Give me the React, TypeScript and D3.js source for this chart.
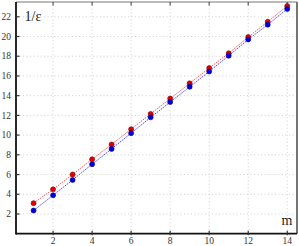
import React, { useEffect } from "react";
import * as d3 from "d3";

const mValues = [1, 2, 3, 4, 5, 6, 7, 8, 9, 10, 11, 12, 13, 14];
const redSeries = [3.1, 4.5, 6.0, 7.55, 9.05, 10.6, 12.15, 13.7, 15.25, 16.8, 18.3, 19.95, 21.5, 23.1];
const blueSeries = [2.35, 3.9, 5.45, 7.05, 8.6, 10.2, 11.8, 13.35, 14.9, 16.45, 18.05, 19.7, 21.2, 22.8];
const xTicks = [2, 4, 6, 8, 10, 12, 14];
const yTicks = [2, 4, 6, 8, 10, 12, 14, 16, 18, 20, 22];

const width = 299;
const height = 246;
const margin = { top: 2, right: 2, bottom: 12.3, left: 16 };
const font = "'Liberation Serif', 'DejaVu Serif', serif";

const App: React.FC = () => {
  useEffect(() => {
    document.body.style.margin = "0";
  }, []);

  const x = d3.scaleLinear().domain([0.1, 14.5]).range([margin.left, width - margin.right]);
  const y = d3.scaleLinear().domain([0, 23.5]).range([height - margin.bottom, margin.top]);

  const line = d3
    .line<number>()
    .x((_, i) => x(mValues[i]))
    .y((d) => y(d));

  const x0 = x.range()[0];
  const x1 = x.range()[1];
  const y0 = y.range()[0];
  const y1 = y.range()[1];

  return (
    <svg width={width} height={height} style={{ display: "block" }} fontFamily={font}>
      <rect width={width} height={height} fill="#fff" />
      {/* grid */}
      {xTicks.map((t) => (
        <line key={"gx" + t} x1={x(t)} x2={x(t)} y1={y0} y2={y1} stroke="#c4c4c4" strokeWidth={0.8} strokeDasharray="1,2.5" />
      ))}
      {yTicks.map((t) => (
        <line key={"gy" + t} x1={x0} x2={x1} y1={y(t)} y2={y(t)} stroke="#c4c4c4" strokeWidth={0.8} strokeDasharray="1,2.5" />
      ))}
      {/* frame */}
      <line x1={x0} x2={x1} y1={y1} y2={y1} stroke="#777" strokeWidth={1.2} />
      <line x1={x1} x2={x1} y1={y1} y2={y0} stroke="#666" strokeWidth={1.8} />
      <line x1={x0} x2={x1} y1={y0} y2={y0} stroke="#111" strokeWidth={1.8} />
      <line x1={x0} x2={x0} y1={y1} y2={y0 + 0.9} stroke="#111" strokeWidth={1.8} />
      {/* ticks */}
      {xTicks.map((t) => (
        <g key={"tx" + t}>
          <line x1={x(t)} x2={x(t)} y1={y0 + 1.5} y2={y0 - 3} stroke="#333" strokeWidth={1.2} />
          <line x1={x(t)} x2={x(t)} y1={y1} y2={y1 + 3.5} stroke="#555" strokeWidth={1.2} />
          <text x={x(t)} y={244} fontSize={9.5} textAnchor="middle" fill="#333">
            {t}
          </text>
        </g>
      ))}
      {yTicks.map((t) => (
        <g key={"ty" + t}>
          <line x1={x0} x2={x0 + 3.5} y1={y(t)} y2={y(t)} stroke="#333" strokeWidth={1.2} />
          <text x={11} y={y(t) + 3.2} fontSize={9.5} textAnchor="end" fill="#333">
            {t}
          </text>
        </g>
      ))}
      {/* lines */}
      <path d={line(redSeries) ?? ""} fill="none" stroke="#ff5555" strokeWidth={1} strokeDasharray="1.5,1" />
      <path d={line(blueSeries) ?? ""} fill="none" stroke="#4444ff" strokeWidth={1} strokeDasharray="1.5,1" />
      {/* markers */}
      {redSeries.map((v, i) => (
        <circle key={"r" + i} cx={x(mValues[i])} cy={y(v)} r={2.5} fill="#e00000" stroke="#8a0000" strokeWidth={0.6} />
      ))}
      {blueSeries.map((v, i) => (
        <circle key={"b" + i} cx={x(mValues[i])} cy={y(v)} r={2.5} fill="#0000e0" stroke="#00008a" strokeWidth={0.6} />
      ))}
      {/* axis labels */}
      <text x={24.5} y={21} fontSize={14} fill="#222">
        1/ε
      </text>
      <text x={281.5} y={225} fontSize={14} fill="#222">
        m
      </text>
    </svg>
  );
};

export default App;
